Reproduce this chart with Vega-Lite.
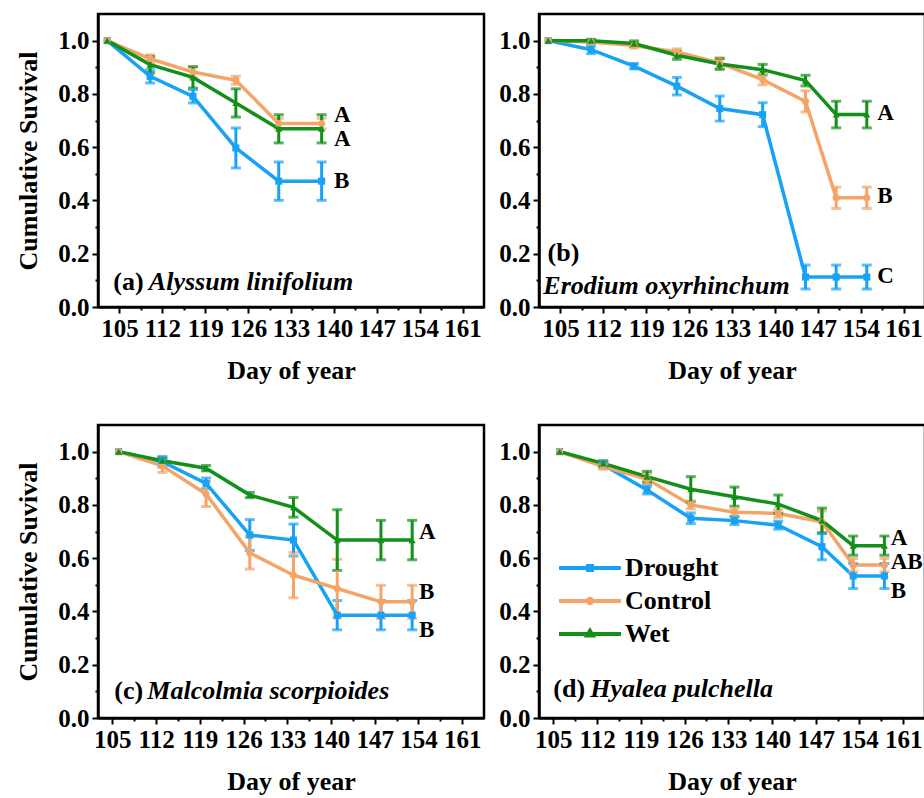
{
  "$schema": "https://vega.github.io/schema/vega-lite/v6.json",
  "background": "white",
  "padding": {"left": 14, "top": 12, "right": 0, "bottom": 0},
  "datasets": {
    "s": [
      {"p":"a","t":"Drought","x":103,"y":1.0,"e":0},
      {"p":"a","t":"Drought","x":110,"y":0.866,"e":0.025},
      {"p":"a","t":"Drought","x":117,"y":0.791,"e":0.025},
      {"p":"a","t":"Drought","x":124,"y":0.597,"e":0.075},
      {"p":"a","t":"Drought","x":131,"y":0.4725,"e":0.072},
      {"p":"a","t":"Drought","x":138,"y":0.4725,"e":0.072},
      {"p":"a","t":"Control","x":103,"y":1.0,"e":0},
      {"p":"a","t":"Control","x":110,"y":0.932,"e":0.015},
      {"p":"a","t":"Control","x":117,"y":0.882,"e":0.02},
      {"p":"a","t":"Control","x":124,"y":0.851,"e":0.015},
      {"p":"a","t":"Control","x":131,"y":0.689,"e":0.02},
      {"p":"a","t":"Control","x":138,"y":0.689,"e":0.02},
      {"p":"a","t":"Wet","x":103,"y":1.0,"e":0},
      {"p":"a","t":"Wet","x":110,"y":0.91,"e":0.03},
      {"p":"a","t":"Wet","x":117,"y":0.862,"e":0.04},
      {"p":"a","t":"Wet","x":124,"y":0.766,"e":0.053},
      {"p":"a","t":"Wet","x":131,"y":0.669,"e":0.053},
      {"p":"a","t":"Wet","x":138,"y":0.669,"e":0.053},

      {"p":"b","t":"Drought","x":103,"y":1.0,"e":0},
      {"p":"b","t":"Drought","x":110,"y":0.966,"e":0.015},
      {"p":"b","t":"Drought","x":117,"y":0.904,"e":0.01},
      {"p":"b","t":"Drought","x":124,"y":0.829,"e":0.033},
      {"p":"b","t":"Drought","x":131,"y":0.745,"e":0.047},
      {"p":"b","t":"Drought","x":138,"y":0.722,"e":0.045},
      {"p":"b","t":"Drought","x":145,"y":0.1125,"e":0.045},
      {"p":"b","t":"Drought","x":150,"y":0.1125,"e":0.045},
      {"p":"b","t":"Drought","x":155,"y":0.1125,"e":0.045},
      {"p":"b","t":"Control","x":103,"y":1.0,"e":0},
      {"p":"b","t":"Control","x":110,"y":0.995,"e":0.005},
      {"p":"b","t":"Control","x":117,"y":0.982,"e":0.01},
      {"p":"b","t":"Control","x":124,"y":0.957,"e":0.012},
      {"p":"b","t":"Control","x":131,"y":0.916,"e":0.02},
      {"p":"b","t":"Control","x":138,"y":0.854,"e":0.02},
      {"p":"b","t":"Control","x":145,"y":0.772,"e":0.04},
      {"p":"b","t":"Control","x":150,"y":0.41,"e":0.04},
      {"p":"b","t":"Control","x":155,"y":0.41,"e":0.04},
      {"p":"b","t":"Wet","x":103,"y":1.0,"e":0},
      {"p":"b","t":"Wet","x":110,"y":1.0,"e":0.005},
      {"p":"b","t":"Wet","x":117,"y":0.989,"e":0.01},
      {"p":"b","t":"Wet","x":124,"y":0.945,"e":0.015},
      {"p":"b","t":"Wet","x":131,"y":0.912,"e":0.02},
      {"p":"b","t":"Wet","x":138,"y":0.891,"e":0.02},
      {"p":"b","t":"Wet","x":145,"y":0.85,"e":0.02},
      {"p":"b","t":"Wet","x":150,"y":0.7225,"e":0.05},
      {"p":"b","t":"Wet","x":155,"y":0.7225,"e":0.05},

      {"p":"c","t":"Drought","x":106,"y":1.0,"e":0},
      {"p":"c","t":"Drought","x":113,"y":0.962,"e":0.02},
      {"p":"c","t":"Drought","x":120,"y":0.881,"e":0.02},
      {"p":"c","t":"Drought","x":127,"y":0.687,"e":0.058},
      {"p":"c","t":"Drought","x":134,"y":0.668,"e":0.06},
      {"p":"c","t":"Drought","x":141,"y":0.386,"e":0.055},
      {"p":"c","t":"Drought","x":148,"y":0.386,"e":0.055},
      {"p":"c","t":"Drought","x":153,"y":0.386,"e":0.055},
      {"p":"c","t":"Control","x":106,"y":1.0,"e":0},
      {"p":"c","t":"Control","x":113,"y":0.947,"e":0.025},
      {"p":"c","t":"Control","x":120,"y":0.841,"e":0.047},
      {"p":"c","t":"Control","x":127,"y":0.62,"e":0.061},
      {"p":"c","t":"Control","x":134,"y":0.536,"e":0.085},
      {"p":"c","t":"Control","x":141,"y":0.486,"e":0.11},
      {"p":"c","t":"Control","x":148,"y":0.436,"e":0.062},
      {"p":"c","t":"Control","x":153,"y":0.436,"e":0.062},
      {"p":"c","t":"Wet","x":106,"y":1.0,"e":0},
      {"p":"c","t":"Wet","x":113,"y":0.966,"e":0.01},
      {"p":"c","t":"Wet","x":120,"y":0.938,"e":0.01},
      {"p":"c","t":"Wet","x":127,"y":0.837,"e":0.01},
      {"p":"c","t":"Wet","x":134,"y":0.791,"e":0.037},
      {"p":"c","t":"Wet","x":141,"y":0.668,"e":0.114},
      {"p":"c","t":"Wet","x":148,"y":0.668,"e":0.074},
      {"p":"c","t":"Wet","x":153,"y":0.668,"e":0.074},

      {"p":"d","t":"Drought","x":106,"y":1.0,"e":0},
      {"p":"d","t":"Drought","x":113,"y":0.95,"e":0.01},
      {"p":"d","t":"Drought","x":120,"y":0.856,"e":0.015},
      {"p":"d","t":"Drought","x":127,"y":0.75,"e":0.02},
      {"p":"d","t":"Drought","x":134,"y":0.741,"e":0.015},
      {"p":"d","t":"Drought","x":141,"y":0.724,"e":0.015},
      {"p":"d","t":"Drought","x":148,"y":0.643,"e":0.049},
      {"p":"d","t":"Drought","x":153,"y":0.533,"e":0.047},
      {"p":"d","t":"Drought","x":158,"y":0.533,"e":0.047},
      {"p":"d","t":"Control","x":106,"y":1.0,"e":0},
      {"p":"d","t":"Control","x":113,"y":0.944,"e":0.01},
      {"p":"d","t":"Control","x":120,"y":0.897,"e":0.02},
      {"p":"d","t":"Control","x":127,"y":0.8,"e":0.015},
      {"p":"d","t":"Control","x":134,"y":0.772,"e":0.015},
      {"p":"d","t":"Control","x":141,"y":0.768,"e":0.015},
      {"p":"d","t":"Control","x":148,"y":0.737,"e":0.04},
      {"p":"d","t":"Control","x":153,"y":0.574,"e":0.025},
      {"p":"d","t":"Control","x":158,"y":0.574,"e":0.025},
      {"p":"d","t":"Wet","x":106,"y":1.0,"e":0},
      {"p":"d","t":"Wet","x":113,"y":0.956,"e":0.01},
      {"p":"d","t":"Wet","x":120,"y":0.906,"e":0.02},
      {"p":"d","t":"Wet","x":127,"y":0.859,"e":0.047},
      {"p":"d","t":"Wet","x":134,"y":0.831,"e":0.036},
      {"p":"d","t":"Wet","x":141,"y":0.803,"e":0.034},
      {"p":"d","t":"Wet","x":148,"y":0.741,"e":0.047},
      {"p":"d","t":"Wet","x":153,"y":0.647,"e":0.036},
      {"p":"d","t":"Wet","x":158,"y":0.647,"e":0.036}
    ],
    "lab": [
      {"p":"a","k":"letter","x":140.0,"y":0.72,"text":"A"},
      {"p":"a","k":"letter","x":140.0,"y":0.632,"text":"A"},
      {"p":"a","k":"letter","x":140.0,"y":0.472,"text":"B"},
      {"p":"a","k":"tag","x":104.0,"y":0.064,"text":"(a)"},
      {"p":"a","k":"sp","x":109.8,"y":0.064,"text":"Alyssum linifolium"},
      {"p":"b","k":"letter","x":156.7,"y":0.729,"text":"A"},
      {"p":"b","k":"letter","x":156.7,"y":0.416,"text":"B"},
      {"p":"b","k":"letter","x":156.7,"y":0.116,"text":"C"},
      {"p":"b","k":"tag","x":102.9,"y":0.172,"text":"(b)"},
      {"p":"b","k":"sp","x":102.2,"y":0.047,"text":"Erodium oxyrhinchum"},
      {"p":"c","k":"letter","x":154.1,"y":0.697,"text":"A"},
      {"p":"c","k":"letter","x":154.1,"y":0.474,"text":"B"},
      {"p":"c","k":"letter","x":154.1,"y":0.33,"text":"B"},
      {"p":"c","k":"tag","x":105.3,"y":0.073,"text":"(c)"},
      {"p":"c","k":"sp","x":110.6,"y":0.073,"text":"Malcolmia scorpioides"},
      {"p":"d","k":"letter","x":159.0,"y":0.674,"text":"A"},
      {"p":"d","k":"letter","x":159.0,"y":0.586,"text":"AB"},
      {"p":"d","k":"letter","x":159.0,"y":0.477,"text":"B"},
      {"p":"d","k":"tag","x":105.0,"y":0.079,"text":"(d)"},
      {"p":"d","k":"sp","x":110.9,"y":0.079,"text":"Hyalea pulchella"}
    ]
  },
  "columns": 2,
  "spacing": {"row": 118, "column": 55},
  "bounds": "flush",
  "resolve": {
    "scale": {"x": "independent", "y": "independent", "color": "shared", "shape": "shared", "fill": "shared"},
    "legend": {"color": "independent", "shape": "independent", "fill": "independent"}
  },
  "concat": [
    {
      "width": 386, "height": 293,
      "encoding": {
        "x": {"field": "x", "type": "quantitative", "scale": {"domain": [101.5, 164.5], "nice": false, "zero": false},
          "axis": {"title": "Day of year", "format": "d", "values": [105,108.5,112,115.5,119,122.5,126,129.5,133,136.5,140,143.5,147,150.5,154,157.5,161], "labelExpr": "datum.value % 7 === 0 ? datum.label : ''", "tickSize": {"condition": {"test": "datum.value % 7 === 0", "value": 6}, "value": 3}}},
        "y": {"field": "y", "type": "quantitative", "scale": {"domain": [0, 1.1], "nice": false},
          "axis": {"title": "Cumulative Suvival", "format": ".1f", "values": [0,0.1,0.2,0.3,0.4,0.5,0.6,0.7,0.8,0.9,1.0], "labelExpr": "round(datum.value*10) % 2 === 0 ? datum.label : ''", "tickSize": {"condition": {"test": "round(datum.value*10) % 2 === 0", "value": 6}, "value": 3}}}
      },
      "layer": [
        {"data": {"name": "s"}, "transform": [{"filter": "datum.p === 'a' && datum.e > 0"}],
          "mark": {"type": "errorbar", "ticks": true, "size": 10, "thickness": 3},
          "encoding": {"yError": {"field": "e"}, "color": {"field": "t", "type": "nominal", "scale": {"domain": ["Drought","Control","Wet"], "range": ["#18A2F5","#F5A468","#12901A"]}, "legend": null}}},
        {"data": {"name": "s"}, "transform": [{"filter": "datum.p === 'a'"}],
          "mark": {"type": "line", "strokeWidth": 3.5},
          "encoding": {"color": {"field": "t", "type": "nominal", "scale": {"domain": ["Drought","Control","Wet"], "range": ["#18A2F5","#F5A468","#12901A"]}, "legend": null}}},
        {"data": {"name": "s"}, "transform": [{"filter": "datum.p === 'a'"}],
          "mark": {"type": "point", "filled": true, "size": 50, "opacity": 1},
          "encoding": {"color": {"field": "t", "type": "nominal", "scale": {"domain": ["Drought","Control","Wet"], "range": ["#18A2F5","#F5A468","#12901A"]}, "legend": null},
            "shape": {"field": "t", "type": "nominal", "scale": {"domain": ["Wet","Control","Drought"], "range": ["triangle-up","circle","square"]}, "legend": null}}},
        {"data": {"name": "lab"}, "transform": [{"filter": "datum.p === 'a' && datum.k === 'letter'"}],
          "mark": {"type": "text", "align": "left", "baseline": "middle", "font": "Liberation Serif", "fontWeight": "bold", "fontSize": 23, "color": "black"},
          "encoding": {"text": {"field": "text"}}},
        {"data": {"name": "lab"}, "transform": [{"filter": "datum.p === 'a' && datum.k === 'tag'"}],
          "mark": {"type": "text", "align": "left", "baseline": "alphabetic", "font": "Liberation Serif", "fontWeight": "bold", "fontSize": 26, "color": "black"},
          "encoding": {"text": {"field": "text"}}},
        {"data": {"name": "lab"}, "transform": [{"filter": "datum.p === 'a' && datum.k === 'sp'"}],
          "mark": {"type": "text", "align": "left", "baseline": "alphabetic", "font": "Liberation Serif", "fontWeight": "bold", "fontStyle": "italic", "fontSize": 26, "color": "black"},
          "encoding": {"text": {"field": "text"}}}
      ]
    },
    {
      "width": 386, "height": 293,
      "encoding": {
        "x": {"field": "x", "type": "quantitative", "scale": {"domain": [101.5, 164.5], "nice": false, "zero": false},
          "axis": {"title": "Day of year", "format": "d", "values": [105,108.5,112,115.5,119,122.5,126,129.5,133,136.5,140,143.5,147,150.5,154,157.5,161], "labelExpr": "datum.value % 7 === 0 ? datum.label : ''", "tickSize": {"condition": {"test": "datum.value % 7 === 0", "value": 6}, "value": 3}}},
        "y": {"field": "y", "type": "quantitative", "scale": {"domain": [0, 1.1], "nice": false},
          "axis": {"title": null, "format": ".1f", "values": [0,0.1,0.2,0.3,0.4,0.5,0.6,0.7,0.8,0.9,1.0], "labelExpr": "round(datum.value*10) % 2 === 0 ? datum.label : ''", "tickSize": {"condition": {"test": "round(datum.value*10) % 2 === 0", "value": 6}, "value": 3}}}
      },
      "layer": [
        {"data": {"name": "s"}, "transform": [{"filter": "datum.p === 'b' && datum.e > 0"}],
          "mark": {"type": "errorbar", "ticks": true, "size": 10, "thickness": 3},
          "encoding": {"yError": {"field": "e"}, "color": {"field": "t", "type": "nominal", "scale": {"domain": ["Drought","Control","Wet"], "range": ["#18A2F5","#F5A468","#12901A"]}, "legend": null}}},
        {"data": {"name": "s"}, "transform": [{"filter": "datum.p === 'b'"}],
          "mark": {"type": "line", "strokeWidth": 3.5},
          "encoding": {"color": {"field": "t", "type": "nominal", "scale": {"domain": ["Drought","Control","Wet"], "range": ["#18A2F5","#F5A468","#12901A"]}, "legend": null}}},
        {"data": {"name": "s"}, "transform": [{"filter": "datum.p === 'b'"}],
          "mark": {"type": "point", "filled": true, "size": 50, "opacity": 1},
          "encoding": {"color": {"field": "t", "type": "nominal", "scale": {"domain": ["Drought","Control","Wet"], "range": ["#18A2F5","#F5A468","#12901A"]}, "legend": null},
            "shape": {"field": "t", "type": "nominal", "scale": {"domain": ["Wet","Control","Drought"], "range": ["triangle-up","circle","square"]}, "legend": null}}},
        {"data": {"name": "lab"}, "transform": [{"filter": "datum.p === 'b' && datum.k === 'letter'"}],
          "mark": {"type": "text", "align": "left", "baseline": "middle", "font": "Liberation Serif", "fontWeight": "bold", "fontSize": 23, "color": "black"},
          "encoding": {"text": {"field": "text"}}},
        {"data": {"name": "lab"}, "transform": [{"filter": "datum.p === 'b' && datum.k === 'tag'"}],
          "mark": {"type": "text", "align": "left", "baseline": "alphabetic", "font": "Liberation Serif", "fontWeight": "bold", "fontSize": 26, "color": "black"},
          "encoding": {"text": {"field": "text"}}},
        {"data": {"name": "lab"}, "transform": [{"filter": "datum.p === 'b' && datum.k === 'sp'"}],
          "mark": {"type": "text", "align": "left", "baseline": "alphabetic", "font": "Liberation Serif", "fontWeight": "bold", "fontStyle": "italic", "fontSize": 26, "color": "black"},
          "encoding": {"text": {"field": "text"}}}
      ]
    },
    {
      "width": 386, "height": 293,
      "encoding": {
        "x": {"field": "x", "type": "quantitative", "scale": {"domain": [102.7, 164.5], "nice": false, "zero": false},
          "axis": {"title": "Day of year", "format": "d", "values": [105,108.5,112,115.5,119,122.5,126,129.5,133,136.5,140,143.5,147,150.5,154,157.5,161], "labelExpr": "datum.value % 7 === 0 ? datum.label : ''", "tickSize": {"condition": {"test": "datum.value % 7 === 0", "value": 6}, "value": 3}}},
        "y": {"field": "y", "type": "quantitative", "scale": {"domain": [0, 1.1], "nice": false},
          "axis": {"title": "Cumulative Suvival", "format": ".1f", "values": [0,0.1,0.2,0.3,0.4,0.5,0.6,0.7,0.8,0.9,1.0], "labelExpr": "round(datum.value*10) % 2 === 0 ? datum.label : ''", "tickSize": {"condition": {"test": "round(datum.value*10) % 2 === 0", "value": 6}, "value": 3}}}
      },
      "layer": [
        {"data": {"name": "s"}, "transform": [{"filter": "datum.p === 'c' && datum.e > 0"}],
          "mark": {"type": "errorbar", "ticks": true, "size": 10, "thickness": 3},
          "encoding": {"yError": {"field": "e"}, "color": {"field": "t", "type": "nominal", "scale": {"domain": ["Drought","Control","Wet"], "range": ["#18A2F5","#F5A468","#12901A"]}, "legend": null}}},
        {"data": {"name": "s"}, "transform": [{"filter": "datum.p === 'c'"}],
          "mark": {"type": "line", "strokeWidth": 3.5},
          "encoding": {"color": {"field": "t", "type": "nominal", "scale": {"domain": ["Drought","Control","Wet"], "range": ["#18A2F5","#F5A468","#12901A"]}, "legend": null}}},
        {"data": {"name": "s"}, "transform": [{"filter": "datum.p === 'c'"}],
          "mark": {"type": "point", "filled": true, "size": 50, "opacity": 1},
          "encoding": {"color": {"field": "t", "type": "nominal", "scale": {"domain": ["Drought","Control","Wet"], "range": ["#18A2F5","#F5A468","#12901A"]}, "legend": null},
            "shape": {"field": "t", "type": "nominal", "scale": {"domain": ["Wet","Control","Drought"], "range": ["triangle-up","circle","square"]}, "legend": null}}},
        {"data": {"name": "lab"}, "transform": [{"filter": "datum.p === 'c' && datum.k === 'letter'"}],
          "mark": {"type": "text", "align": "left", "baseline": "middle", "font": "Liberation Serif", "fontWeight": "bold", "fontSize": 23, "color": "black"},
          "encoding": {"text": {"field": "text"}}},
        {"data": {"name": "lab"}, "transform": [{"filter": "datum.p === 'c' && datum.k === 'tag'"}],
          "mark": {"type": "text", "align": "left", "baseline": "alphabetic", "font": "Liberation Serif", "fontWeight": "bold", "fontSize": 26, "color": "black"},
          "encoding": {"text": {"field": "text"}}},
        {"data": {"name": "lab"}, "transform": [{"filter": "datum.p === 'c' && datum.k === 'sp'"}],
          "mark": {"type": "text", "align": "left", "baseline": "alphabetic", "font": "Liberation Serif", "fontWeight": "bold", "fontStyle": "italic", "fontSize": 26, "color": "black"},
          "encoding": {"text": {"field": "text"}}}
      ]
    },
    {
      "width": 386, "height": 293,
      "encoding": {
        "x": {"field": "x", "type": "quantitative", "scale": {"domain": [102.7, 164.5], "nice": false, "zero": false},
          "axis": {"title": "Day of year", "format": "d", "values": [105,108.5,112,115.5,119,122.5,126,129.5,133,136.5,140,143.5,147,150.5,154,157.5,161], "labelExpr": "datum.value % 7 === 0 ? datum.label : ''", "tickSize": {"condition": {"test": "datum.value % 7 === 0", "value": 6}, "value": 3}}},
        "y": {"field": "y", "type": "quantitative", "scale": {"domain": [0, 1.1], "nice": false},
          "axis": {"title": null, "format": ".1f", "values": [0,0.1,0.2,0.3,0.4,0.5,0.6,0.7,0.8,0.9,1.0], "labelExpr": "round(datum.value*10) % 2 === 0 ? datum.label : ''", "tickSize": {"condition": {"test": "round(datum.value*10) % 2 === 0", "value": 6}, "value": 3}}}
      },
      "layer": [
        {"data": {"name": "s"}, "transform": [{"filter": "datum.p === 'd'"}],
          "mark": {"type": "line", "strokeWidth": 3.5},
          "encoding": {"color": {"field": "t", "type": "nominal", "scale": {"domain": ["Drought","Control","Wet"], "range": ["#18A2F5","#F5A468","#12901A"]},
            "legend": {"orient": "none", "legendX": 38, "legendY": 130, "title": null, "padding": 0, "symbolType": "M-3.1,0L3.1,0", "symbolSize": 400, "symbolStrokeWidth": 4, "labelFont": "Liberation Serif", "labelFontWeight": "bold", "labelFontSize": 26, "labelColor": "black", "labelOffset": 22, "rowPadding": 7,
              "encode": {"symbols": {"update": {
                "shape": {"signal": "datum.value === 'Drought' ? 'M-3.1,0L3.1,0M-0.2,-0.2L0.2,-0.2L0.2,0.2L-0.2,0.2Z' : datum.value === 'Control' ? 'M-3.1,0L3.1,0M-0.22,0A0.22,0.22 0 1 0 0.22,0A0.22,0.22 0 1 0 -0.22,0Z' : 'M-3.1,0L3.1,0M0,-0.3L0.27,0.15L-0.27,0.15Z'"},
                "fill": {"signal": "datum.value === 'Drought' ? '#18A2F5' : datum.value === 'Control' ? '#F5A468' : '#12901A'"},
                "strokeWidth": {"value": 4},
                "opacity": {"value": 1}
              }}}}}}},
        {"data": {"name": "s"}, "transform": [{"filter": "datum.p === 'd' && datum.e > 0"}],
          "mark": {"type": "errorbar", "ticks": true, "size": 10, "thickness": 3},
          "encoding": {"yError": {"field": "e"}, "color": {"field": "t", "type": "nominal", "scale": {"domain": ["Drought","Control","Wet"], "range": ["#18A2F5","#F5A468","#12901A"]}}}},
        {"data": {"name": "s"}, "transform": [{"filter": "datum.p === 'd'"}],
          "mark": {"type": "point", "filled": true, "size": 50, "opacity": 1, "strokeWidth": 0},
          "encoding": {"fill": {"field": "t", "type": "nominal", "scale": {"domain": ["Control","Drought","Wet"], "range": ["#F5A468","#18A2F5","#12901A"]}, "legend": null},
            "shape": {"field": "t", "type": "nominal", "scale": {"domain": ["Wet","Control","Drought"], "range": ["triangle-up","circle","square"]}, "legend": null}}},
        {"data": {"name": "lab"}, "transform": [{"filter": "datum.p === 'd' && datum.k === 'letter'"}],
          "mark": {"type": "text", "align": "left", "baseline": "middle", "font": "Liberation Serif", "fontWeight": "bold", "fontSize": 23, "color": "black"},
          "encoding": {"text": {"field": "text"}}},
        {"data": {"name": "lab"}, "transform": [{"filter": "datum.p === 'd' && datum.k === 'tag'"}],
          "mark": {"type": "text", "align": "left", "baseline": "alphabetic", "font": "Liberation Serif", "fontWeight": "bold", "fontSize": 26, "color": "black"},
          "encoding": {"text": {"field": "text"}}},
        {"data": {"name": "lab"}, "transform": [{"filter": "datum.p === 'd' && datum.k === 'sp'"}],
          "mark": {"type": "text", "align": "left", "baseline": "alphabetic", "font": "Liberation Serif", "fontWeight": "bold", "fontStyle": "italic", "fontSize": 26, "color": "black"},
          "encoding": {"text": {"field": "text"}}}
      ]
    }
  ],
  "config": {
    "view": {"stroke": "black", "strokeWidth": 2.5},
    "axis": {"domainColor": "black", "domainWidth": 2.5, "tickColor": "black", "tickWidth": 2, "labelFont": "Liberation Serif", "labelFontWeight": "bold", "labelFontSize": 25, "labelColor": "black", "labelPadding": 3, "titleFont": "Liberation Serif", "titleFontWeight": "bold", "titleFontSize": 26, "titleColor": "black", "grid": false, "labelFlush": false, "labelOverlap": false},
    "axisX": {"titlePadding": 16},
    "axisY": {"titlePadding": 16}
  }
}
